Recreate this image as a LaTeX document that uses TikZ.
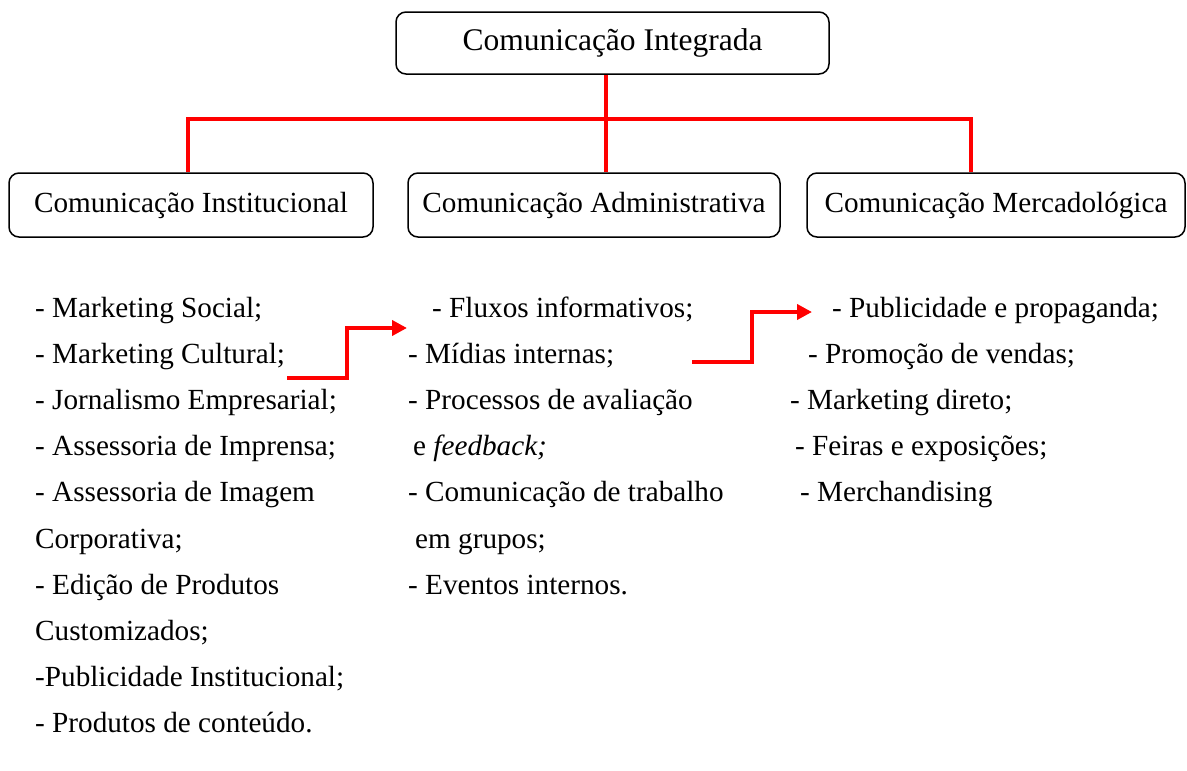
\documentclass[tikz,border=0pt]{standalone}
\usepackage{fontspec}
\setmainfont{Liberation Serif}
\usetikzlibrary{arrows.meta}
\tikzstyle{topBox} = [draw, line width=1.5pt, rounded corners=10pt, minimum width=433pt, minimum height=62pt, font=\fontsize{31.5}{36}\selectfont]
\tikzstyle{areaBox} = [draw, line width=1.5pt, rounded corners=10pt, minimum height=64pt, font=\fontsize{29.2}{35}\selectfont]
\tikzstyle{listItem} = [anchor=base west, inner sep=0pt, font=\fontsize{29.2}{35}\selectfont]
\tikzstyle{redLink} = [draw, red, line width=4pt]
\tikzstyle{redArrow} = [draw, red, line width=4pt, -{Triangle[length=15pt,width=15pt]}]
\begin{document}
\begin{tikzpicture}[x=1pt, y=-1pt]
	\useasboundingbox (0,0) rectangle (1187,771);

	\node (integrada) [topBox] at (612.5,43) {Comunicação Integrada};
	\node (institucional) [areaBox, minimum width=364pt] at (191,205) {Comunicação Institucional};
	\node (administrativa) [areaBox, minimum width=372pt] at (594,205) {Comunicação Administrativa};
	\node (mercadologica) [areaBox, minimum width=378pt] at (996,205) {Comunicação Mercadológica};

	% Helpers for the red tree
	\coordinate (hubMid) at (606,119);
	\coordinate (hubLeft) at (188,119);
	\coordinate (hubRight) at (971,119);
	\path [redLink] (institucional.north -| hubLeft) -- (hubLeft) -- (hubRight) -- (mercadologica.north -| hubRight);
	\path [redLink] (integrada.south -| hubMid) -- (administrativa.north -| hubMid);

	% Lists under each box
	\foreach \txt [count=\i from 0] in {{- Marketing Social;}, {- Marketing Cultural;}, {- Jornalismo Empresarial;}, {- Assessoria de Imprensa;}, {- Assessoria de Imagem}, {Corporativa;}, {- Edição de Produtos}, {Customizados;}, {-Publicidade Institucional;}, {- Produtos de conteúdo.}}
		\node (inst\i) [listItem] at (35, 317+46.2*\i) {\txt};

	\node (adm0) [listItem] at (432,317) {- Fluxos informativos;};
	\node (adm1) [listItem] at (408,363.2) {- Mídias internas;};
	\node (adm2) [listItem] at (408,409.4) {- Processos de avaliação};
	\node (adm3) [listItem] at (413,455.6) {e \textit{feedback;}};
	\node (adm4) [listItem] at (408,501.8) {- Comunicação de trabalho};
	\node (adm5) [listItem] at (415,548) {em grupos;};
	\node (adm6) [listItem] at (408,594.2) {- Eventos internos.};

	\node (merc0) [listItem] at (832,317) {- Publicidade e propaganda;};
	\node (merc1) [listItem] at (808,363.2) {- Promoção de vendas;};
	\node (merc2) [listItem] at (790,409.4) {- Marketing direto;};
	\node (merc3) [listItem] at (795,455.6) {- Feiras e exposições;};
	\node (merc4) [listItem] at (800,501.8) {- Merchandising};

	% Step arrows between the lists
	\coordinate (fromInst) at (287,378);
	\coordinate (toAdm) at (407,328);
	\path [redArrow] (fromInst) -- ++(60,0) |- (toAdm);
	\coordinate (fromAdm) at (692,362);
	\coordinate (toMerc) at (812,312);
	\path [redArrow] (fromAdm) -- ++(60,0) |- (toMerc);
\end{tikzpicture}
\end{document}
